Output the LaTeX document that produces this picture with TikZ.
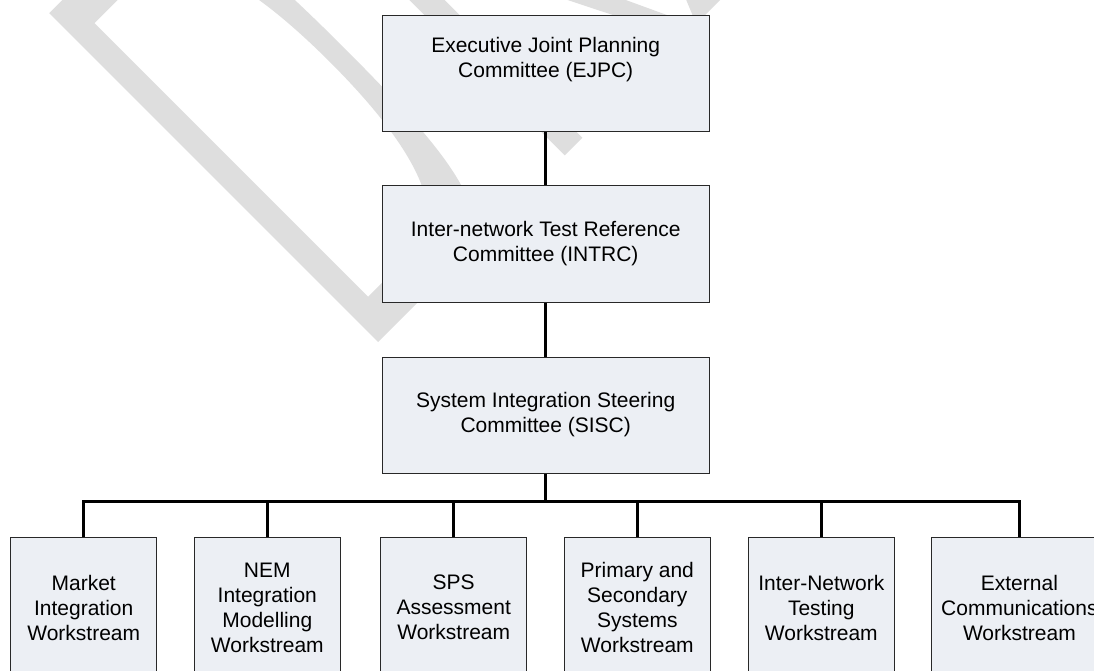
\documentclass[tikz,border=0pt]{standalone}
\usepackage{fontspec}
\setmainfont{Liberation Sans}
\definecolor{wm}{RGB}{222,222,222}
\definecolor{boxfill}{RGB}{236,239,244}
\definecolor{boxline}{RGB}{40,40,40}
\begin{document}
\begin{tikzpicture}[x=1pt,y=-1pt,
  box/.style={draw=boxline, line width=1pt, fill=boxfill, rectangle, align=center, inner sep=0pt, font=\fontsize{21}{25}\selectfont},
  topbox/.style={box, minimum width=327pt, minimum height=116pt},
  wsbox/.style={box, minimum width=146pt, minimum height=140.4pt},
  conn/.style={line width=2.6pt, draw=black}]
\clip (0,0) rectangle (1094,671);
\fill[white] (0,0) rectangle (1094,671);
% watermark (rotated letters of DRAFT)
\begin{scope}[shift={(378pt,-342pt)}, x={(0.7071pt,0.7071pt)}, y={(-0.7071pt,0.7071pt)}]
  \fill[wm, even odd rule]
    (0,0) -- (110,0) .. controls (170,0) and (184,60) .. (184,232)
          .. controls (184,405) and (170,465) .. (110,465) -- (0,465) -- cycle
    (25,39) -- (90,39) .. controls (140,39) and (164,110) .. (164,232)
          .. controls (164,354) and (140,426) .. (90,426) -- (25,426) -- cycle;
  \fill[wm] (264,0) -- (289,0) -- (289,470) -- (264,470) -- cycle;
  \fill[wm] (322,215) -- (348,215) -- (448,0) -- (430,0) -- cycle;
  \fill[wm] (450,0) -- (484,0) -- (607,300) -- (573,300) -- cycle;
\end{scope}
% boxes
\node[topbox] (ejpc) at (545.7,74) {Executive Joint Planning\\Committee (EJPC)\\\strut};
\node[topbox] (intrc) at (545.7,244) {Inter-network Test Reference\\Committee (INTRC)};
\node[topbox] (sisc) at (545.7,415) {System Integration Steering\\Committee (SISC)};
\node[wsbox] (w1) at (83.7,607.5) {Market\\Integration\\Workstream};
\node[wsbox] (w2) at (267.3,607.5) {NEM\\Integration\\Modelling\\Workstream};
\node[wsbox] (w3) at (453.7,607.5) {SPS\\Assessment\\Workstream};
\node[wsbox] (w4) at (637.3,607.5) {Primary and\\Secondary\\Systems\\Workstream};
\node[wsbox] (w5) at (821.3,607.5) {Inter-Network\\Testing\\Workstream};
\node[wsbox, minimum width=175.6pt] (w6) at (1019.4,607.5) {External\\Communications\\Workstream};
% connectors
\coordinate (bus) at (545.7,501.7);
\draw[conn] (ejpc.south) -- (intrc.north);
\draw[conn] (intrc.south) -- (sisc.north);
\draw[conn] (sisc.south) -- (bus);
\foreach \n in {w1,w2,w3,w4,w5,w6} \draw[conn] (bus) -| (\n.north);
\end{tikzpicture}
\end{document}
